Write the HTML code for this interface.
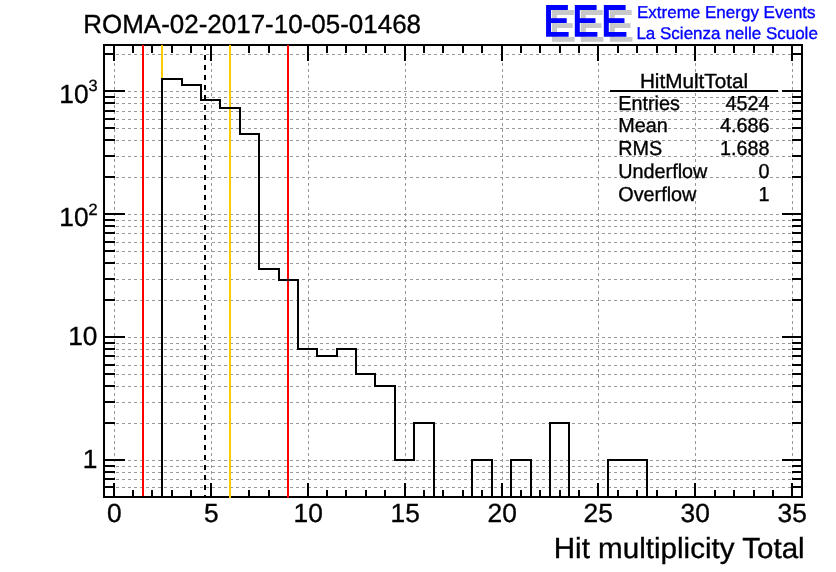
<!DOCTYPE html>
<html><head><meta charset="utf-8"><title>ROMA-02-2017-10-05-01468</title>
<style>
html,body{margin:0;padding:0;background:#fff;}
body{width:836px;height:572px;position:relative;overflow:hidden;font-family:"Liberation Sans",Arial,Helvetica,sans-serif;}
</style></head><body>
<svg width="836" height="572" viewBox="0 0 836 572" style="position:absolute;left:0;top:0" shape-rendering="crispEdges">
<g stroke="#999" stroke-width="1" stroke-dasharray="3 3" fill="none"><line x1="104" y1="497.5" x2="802" y2="497.5"/><line x1="104" y1="487.5" x2="802" y2="487.5"/><line x1="104" y1="479.5" x2="802" y2="479.5"/><line x1="104" y1="472.5" x2="802" y2="472.5"/><line x1="104" y1="466.5" x2="802" y2="466.5"/><line x1="104" y1="460.5" x2="802" y2="460.5"/><line x1="104" y1="423.5" x2="802" y2="423.5"/><line x1="104" y1="402.5" x2="802" y2="402.5"/><line x1="104" y1="386.5" x2="802" y2="386.5"/><line x1="104" y1="374.5" x2="802" y2="374.5"/><line x1="104" y1="365.5" x2="802" y2="365.5"/><line x1="104" y1="356.5" x2="802" y2="356.5"/><line x1="104" y1="349.5" x2="802" y2="349.5"/><line x1="104" y1="343.5" x2="802" y2="343.5"/><line x1="104" y1="337.5" x2="802" y2="337.5"/><line x1="104" y1="300.5" x2="802" y2="300.5"/><line x1="104" y1="279.5" x2="802" y2="279.5"/><line x1="104" y1="263.5" x2="802" y2="263.5"/><line x1="104" y1="251.5" x2="802" y2="251.5"/><line x1="104" y1="242.5" x2="802" y2="242.5"/><line x1="104" y1="233.5" x2="802" y2="233.5"/><line x1="104" y1="226.5" x2="802" y2="226.5"/><line x1="104" y1="220.5" x2="802" y2="220.5"/><line x1="104" y1="214.5" x2="802" y2="214.5"/><line x1="104" y1="177.5" x2="802" y2="177.5"/><line x1="104" y1="156.5" x2="802" y2="156.5"/><line x1="104" y1="140.5" x2="802" y2="140.5"/><line x1="104" y1="128.5" x2="802" y2="128.5"/><line x1="104" y1="119.5" x2="802" y2="119.5"/><line x1="104" y1="111.5" x2="802" y2="111.5"/><line x1="104" y1="103.5" x2="802" y2="103.5"/><line x1="104" y1="97.5" x2="802" y2="97.5"/><line x1="104" y1="91.5" x2="802" y2="91.5"/><line x1="104" y1="54.5" x2="802" y2="54.5"/><line x1="114.5" y1="45" x2="114.5" y2="497"/><line x1="211.5" y1="45" x2="211.5" y2="497"/><line x1="308.5" y1="45" x2="308.5" y2="497"/><line x1="405.5" y1="45" x2="405.5" y2="497"/><line x1="502.5" y1="45" x2="502.5" y2="497"/><line x1="598.5" y1="45" x2="598.5" y2="497"/><line x1="695.5" y1="45" x2="695.5" y2="497"/><line x1="792.5" y1="45" x2="792.5" y2="497"/></g>
<g stroke="#000" stroke-width="2" fill="none"><line x1="114" y1="497" x2="114" y2="483"/><line x1="114" y1="45" x2="114" y2="61"/><line x1="133" y1="497" x2="133" y2="490"/><line x1="133" y1="45" x2="133" y2="53"/><line x1="152" y1="497" x2="152" y2="490"/><line x1="152" y1="45" x2="152" y2="53"/><line x1="172" y1="497" x2="172" y2="490"/><line x1="172" y1="45" x2="172" y2="53"/><line x1="191" y1="497" x2="191" y2="490"/><line x1="191" y1="45" x2="191" y2="53"/><line x1="211" y1="497" x2="211" y2="483"/><line x1="211" y1="45" x2="211" y2="61"/><line x1="230" y1="497" x2="230" y2="490"/><line x1="230" y1="45" x2="230" y2="53"/><line x1="249" y1="497" x2="249" y2="490"/><line x1="249" y1="45" x2="249" y2="53"/><line x1="269" y1="497" x2="269" y2="490"/><line x1="269" y1="45" x2="269" y2="53"/><line x1="288" y1="497" x2="288" y2="490"/><line x1="288" y1="45" x2="288" y2="53"/><line x1="308" y1="497" x2="308" y2="483"/><line x1="308" y1="45" x2="308" y2="61"/><line x1="327" y1="497" x2="327" y2="490"/><line x1="327" y1="45" x2="327" y2="53"/><line x1="346" y1="497" x2="346" y2="490"/><line x1="346" y1="45" x2="346" y2="53"/><line x1="366" y1="497" x2="366" y2="490"/><line x1="366" y1="45" x2="366" y2="53"/><line x1="385" y1="497" x2="385" y2="490"/><line x1="385" y1="45" x2="385" y2="53"/><line x1="405" y1="497" x2="405" y2="483"/><line x1="405" y1="45" x2="405" y2="61"/><line x1="424" y1="497" x2="424" y2="490"/><line x1="424" y1="45" x2="424" y2="53"/><line x1="443" y1="497" x2="443" y2="490"/><line x1="443" y1="45" x2="443" y2="53"/><line x1="463" y1="497" x2="463" y2="490"/><line x1="463" y1="45" x2="463" y2="53"/><line x1="482" y1="497" x2="482" y2="490"/><line x1="482" y1="45" x2="482" y2="53"/><line x1="502" y1="497" x2="502" y2="483"/><line x1="502" y1="45" x2="502" y2="61"/><line x1="521" y1="497" x2="521" y2="490"/><line x1="521" y1="45" x2="521" y2="53"/><line x1="540" y1="497" x2="540" y2="490"/><line x1="540" y1="45" x2="540" y2="53"/><line x1="560" y1="497" x2="560" y2="490"/><line x1="560" y1="45" x2="560" y2="53"/><line x1="579" y1="497" x2="579" y2="490"/><line x1="579" y1="45" x2="579" y2="53"/><line x1="598" y1="497" x2="598" y2="483"/><line x1="598" y1="45" x2="598" y2="61"/><line x1="618" y1="497" x2="618" y2="490"/><line x1="618" y1="45" x2="618" y2="53"/><line x1="637" y1="497" x2="637" y2="490"/><line x1="637" y1="45" x2="637" y2="53"/><line x1="657" y1="497" x2="657" y2="490"/><line x1="657" y1="45" x2="657" y2="53"/><line x1="676" y1="497" x2="676" y2="490"/><line x1="676" y1="45" x2="676" y2="53"/><line x1="695" y1="497" x2="695" y2="483"/><line x1="695" y1="45" x2="695" y2="61"/><line x1="715" y1="497" x2="715" y2="490"/><line x1="715" y1="45" x2="715" y2="53"/><line x1="734" y1="497" x2="734" y2="490"/><line x1="734" y1="45" x2="734" y2="53"/><line x1="754" y1="497" x2="754" y2="490"/><line x1="754" y1="45" x2="754" y2="53"/><line x1="773" y1="497" x2="773" y2="490"/><line x1="773" y1="45" x2="773" y2="53"/><line x1="792" y1="497" x2="792" y2="483"/><line x1="792" y1="45" x2="792" y2="61"/><line x1="104" y1="497" x2="115" y2="497"/><line x1="802" y1="497" x2="792" y2="497"/><line x1="104" y1="487" x2="115" y2="487"/><line x1="802" y1="487" x2="792" y2="487"/><line x1="104" y1="479" x2="115" y2="479"/><line x1="802" y1="479" x2="792" y2="479"/><line x1="104" y1="472" x2="115" y2="472"/><line x1="802" y1="472" x2="792" y2="472"/><line x1="104" y1="466" x2="115" y2="466"/><line x1="802" y1="466" x2="792" y2="466"/><line x1="104" y1="460" x2="125" y2="460"/><line x1="802" y1="460" x2="782" y2="460"/><line x1="104" y1="423" x2="115" y2="423"/><line x1="802" y1="423" x2="792" y2="423"/><line x1="104" y1="402" x2="115" y2="402"/><line x1="802" y1="402" x2="792" y2="402"/><line x1="104" y1="386" x2="115" y2="386"/><line x1="802" y1="386" x2="792" y2="386"/><line x1="104" y1="374" x2="115" y2="374"/><line x1="802" y1="374" x2="792" y2="374"/><line x1="104" y1="365" x2="115" y2="365"/><line x1="802" y1="365" x2="792" y2="365"/><line x1="104" y1="356" x2="115" y2="356"/><line x1="802" y1="356" x2="792" y2="356"/><line x1="104" y1="349" x2="115" y2="349"/><line x1="802" y1="349" x2="792" y2="349"/><line x1="104" y1="343" x2="115" y2="343"/><line x1="802" y1="343" x2="792" y2="343"/><line x1="104" y1="337" x2="125" y2="337"/><line x1="802" y1="337" x2="782" y2="337"/><line x1="104" y1="300" x2="115" y2="300"/><line x1="802" y1="300" x2="792" y2="300"/><line x1="104" y1="279" x2="115" y2="279"/><line x1="802" y1="279" x2="792" y2="279"/><line x1="104" y1="263" x2="115" y2="263"/><line x1="802" y1="263" x2="792" y2="263"/><line x1="104" y1="251" x2="115" y2="251"/><line x1="802" y1="251" x2="792" y2="251"/><line x1="104" y1="242" x2="115" y2="242"/><line x1="802" y1="242" x2="792" y2="242"/><line x1="104" y1="233" x2="115" y2="233"/><line x1="802" y1="233" x2="792" y2="233"/><line x1="104" y1="226" x2="115" y2="226"/><line x1="802" y1="226" x2="792" y2="226"/><line x1="104" y1="220" x2="115" y2="220"/><line x1="802" y1="220" x2="792" y2="220"/><line x1="104" y1="214" x2="125" y2="214"/><line x1="802" y1="214" x2="782" y2="214"/><line x1="104" y1="177" x2="115" y2="177"/><line x1="802" y1="177" x2="792" y2="177"/><line x1="104" y1="156" x2="115" y2="156"/><line x1="802" y1="156" x2="792" y2="156"/><line x1="104" y1="140" x2="115" y2="140"/><line x1="802" y1="140" x2="792" y2="140"/><line x1="104" y1="128" x2="115" y2="128"/><line x1="802" y1="128" x2="792" y2="128"/><line x1="104" y1="119" x2="115" y2="119"/><line x1="802" y1="119" x2="792" y2="119"/><line x1="104" y1="111" x2="115" y2="111"/><line x1="802" y1="111" x2="792" y2="111"/><line x1="104" y1="103" x2="115" y2="103"/><line x1="802" y1="103" x2="792" y2="103"/><line x1="104" y1="97" x2="115" y2="97"/><line x1="802" y1="97" x2="792" y2="97"/><line x1="104" y1="91" x2="125" y2="91"/><line x1="802" y1="91" x2="782" y2="91"/><line x1="104" y1="54" x2="115" y2="54"/><line x1="802" y1="54" x2="792" y2="54"/></g>
<rect x="104" y="45" width="698" height="452" stroke="#000" stroke-width="2" fill="none"/>
<line x1="143" y1="45" x2="143" y2="498" stroke="#ff0000" stroke-width="2" />
<line x1="288" y1="45" x2="288" y2="498" stroke="#ff0000" stroke-width="2" />
<line x1="162" y1="45" x2="162" y2="498" stroke="#ffcc00" stroke-width="2" />
<line x1="230" y1="45" x2="230" y2="498" stroke="#ffcc00" stroke-width="2" />
<line x1="205" y1="45" x2="205" y2="497" stroke="#000" stroke-width="2" stroke-dasharray="5 5"/>
<path d="M104 497 L162 497 L162 79 L182 79 L182 85 L201 85 L201 100 L220 100 L220 108 L240 108 L240 134 L259 134 L259 269 L279 269 L279 280 L298 280 L298 349 L317 349 L317 356 L337 356 L337 349 L356 349 L356 374 L375 374 L375 386 L395 386 L395 460 L414 460 L414 423 L434 423 L434 497 L472 497 L472 460 L492 460 L492 497 L511 497 L511 460 L531 460 L531 497 L550 497 L550 423 L569 423 L569 497 L608 497 L608 460 L647 460 L647 497 L802 497" stroke="#000" stroke-width="2" fill="none" stroke-linejoin="miter" stroke-linecap="square"/>
<line x1="610" y1="91" x2="778" y2="91" stroke="#000" stroke-width="2"/>
</svg>
<svg width="836" height="572" viewBox="0 0 836 572" style="position:absolute;left:0;top:0;will-change:transform" font-family="'Liberation Sans',Arial,Helvetica,sans-serif" text-rendering="geometricPrecision"><text transform="translate(83.3 33.4) scale(0.995 1)" text-anchor="start" font-size="26.1" fill="#000" font-weight="normal"  stroke="#000" stroke-width="0.35">ROMA-02-2017-10-05-01468</text>
<text transform="translate(549.55 41.1) scale(1 1.115)" text-anchor="start" font-size="39.3" fill="#c8c8c8" font-weight="normal" stroke="#c8c8c8" stroke-width="1.3" stroke-linejoin="miter" letter-spacing="2.6">EEE</text>
<text transform="translate(543.55 36.1) scale(1 1.115)" text-anchor="start" font-size="39.3" fill="#0000ff" font-weight="normal" stroke="#0000ff" stroke-width="1.3" stroke-linejoin="miter" letter-spacing="2.6">EEE</text>
<text transform="translate(637 17.8) scale(1 1)" text-anchor="start" font-size="17.0" fill="#0000ff" font-weight="normal"  stroke="#0000ff" stroke-width="0.35">Extreme Energy Events</text>
<text transform="translate(636.4 38.8) scale(1 1)" text-anchor="start" font-size="17.0" fill="#0000ff" font-weight="normal"  stroke="#0000ff" stroke-width="0.35">La Scienza nelle Scuole</text>
<text transform="translate(694 87.7) scale(1.021 1)" text-anchor="middle" font-size="20.3" fill="#000" font-weight="normal"  stroke="#000" stroke-width="0.35">HitMultTotal</text>
<text transform="translate(618.3 109.5) scale(0.98 1)" text-anchor="start" font-size="20.2" fill="#000" font-weight="normal"  stroke="#000" stroke-width="0.35">Entries</text>
<text transform="translate(769.4 109.5) scale(0.98 1)" text-anchor="end" font-size="20.2" fill="#000" font-weight="normal"  stroke="#000" stroke-width="0.35">4524</text>
<text transform="translate(618.3 132.35) scale(0.98 1)" text-anchor="start" font-size="20.2" fill="#000" font-weight="normal"  stroke="#000" stroke-width="0.35">Mean</text>
<text transform="translate(769.4 132.35) scale(0.98 1)" text-anchor="end" font-size="20.2" fill="#000" font-weight="normal"  stroke="#000" stroke-width="0.35">4.686</text>
<text transform="translate(618.3 155.2) scale(0.98 1)" text-anchor="start" font-size="20.2" fill="#000" font-weight="normal"  stroke="#000" stroke-width="0.35">RMS</text>
<text transform="translate(769.4 155.2) scale(0.98 1)" text-anchor="end" font-size="20.2" fill="#000" font-weight="normal"  stroke="#000" stroke-width="0.35">1.688</text>
<text transform="translate(618.3 178.05) scale(0.98 1)" text-anchor="start" font-size="20.2" fill="#000" font-weight="normal"  stroke="#000" stroke-width="0.35">Underflow</text>
<text transform="translate(769.4 178.05) scale(0.98 1)" text-anchor="end" font-size="20.2" fill="#000" font-weight="normal"  stroke="#000" stroke-width="0.35">0</text>
<text transform="translate(618.3 200.9) scale(0.98 1)" text-anchor="start" font-size="20.2" fill="#000" font-weight="normal"  stroke="#000" stroke-width="0.35">Overflow</text>
<text transform="translate(769.4 200.9) scale(0.98 1)" text-anchor="end" font-size="20.2" fill="#000" font-weight="normal"  stroke="#000" stroke-width="0.35">1</text>
<text transform="translate(114.2 522.2) scale(1 1)" text-anchor="middle" font-size="26.3" fill="#000" font-weight="normal"  stroke="#000" stroke-width="0.35">0</text>
<text transform="translate(211.2 522.2) scale(1 1)" text-anchor="middle" font-size="26.3" fill="#000" font-weight="normal"  stroke="#000" stroke-width="0.35">5</text>
<text transform="translate(308.2 522.2) scale(1 1)" text-anchor="middle" font-size="26.3" fill="#000" font-weight="normal"  stroke="#000" stroke-width="0.35">10</text>
<text transform="translate(405.2 522.2) scale(1 1)" text-anchor="middle" font-size="26.3" fill="#000" font-weight="normal"  stroke="#000" stroke-width="0.35">15</text>
<text transform="translate(502.2 522.2) scale(1 1)" text-anchor="middle" font-size="26.3" fill="#000" font-weight="normal"  stroke="#000" stroke-width="0.35">20</text>
<text transform="translate(598.2 522.2) scale(1 1)" text-anchor="middle" font-size="26.3" fill="#000" font-weight="normal"  stroke="#000" stroke-width="0.35">25</text>
<text transform="translate(695.2 522.2) scale(1 1)" text-anchor="middle" font-size="26.3" fill="#000" font-weight="normal"  stroke="#000" stroke-width="0.35">30</text>
<text transform="translate(792.2 522.2) scale(1 1)" text-anchor="middle" font-size="26.3" fill="#000" font-weight="normal"  stroke="#000" stroke-width="0.35">35</text>
<text transform="translate(97.5 91.0) scale(1 1)" text-anchor="end" font-size="16.3" fill="#000" font-weight="normal"  stroke="#000" stroke-width="0.35">3</text>
<text transform="translate(88.6 103.2) scale(1 1)" text-anchor="end" font-size="26.3" fill="#000" font-weight="normal"  stroke="#000" stroke-width="0.35">10</text>
<text transform="translate(97.5 214.9) scale(1 1)" text-anchor="end" font-size="16.3" fill="#000" font-weight="normal"  stroke="#000" stroke-width="0.35">2</text>
<text transform="translate(88.6 226.2) scale(1 1)" text-anchor="end" font-size="26.3" fill="#000" font-weight="normal"  stroke="#000" stroke-width="0.35">10</text>
<text transform="translate(97.5 345.1) scale(1 1)" text-anchor="end" font-size="26.3" fill="#000" font-weight="normal"  stroke="#000" stroke-width="0.35">10</text>
<text transform="translate(97.5 468.1) scale(1 1)" text-anchor="end" font-size="26.3" fill="#000" font-weight="normal"  stroke="#000" stroke-width="0.35">1</text>
<text transform="translate(804.7 558.4) scale(1.02 1)" text-anchor="end" font-size="29.0" fill="#000" font-weight="normal"  stroke="#000" stroke-width="0.35">Hit multiplicity Total</text></svg>
</body></html>
